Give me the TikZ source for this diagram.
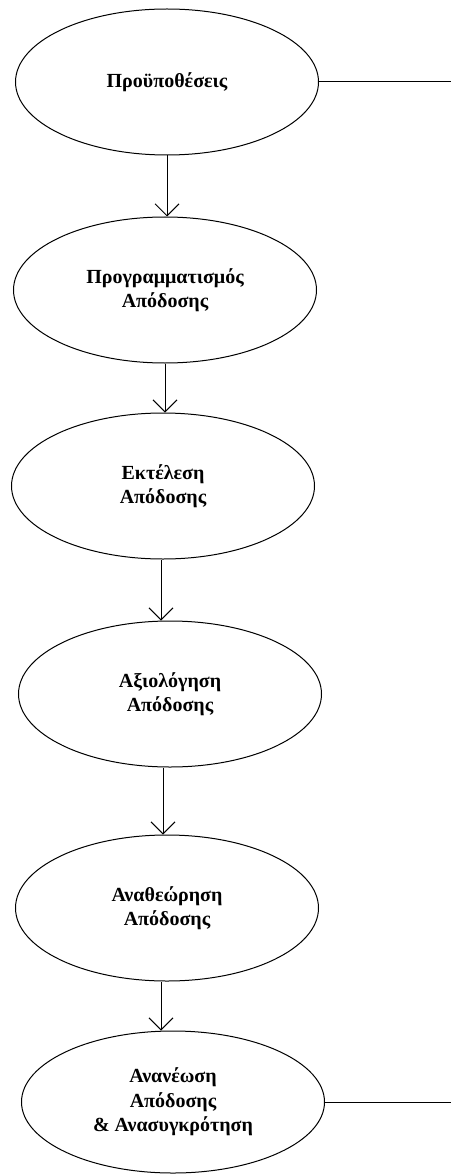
\documentclass[tikz,border=0pt]{standalone}
\usepackage{fontspec}
\setmainfont{Liberation Serif}
\usetikzlibrary{shapes.geometric,arrows.meta}
\begin{document}
\begin{tikzpicture}[x=1pt,y=-1pt,
  stage/.style={ellipse, draw, line width=1pt, inner sep=0pt,
    minimum width=303pt, minimum height=146pt, align=center,
    font=\bfseries\fontsize{20}{24.5}\selectfont},
  flow/.style={draw, line width=1pt,
    -{Straight Barb[length=12pt,width=24pt,line width=1pt]}},
  side/.style={draw, line width=1pt}]
\useasboundingbox (0,0) rectangle (451,1174);
% process stages, top to bottom
\node[stage] (e1) at (167,82)   {Προϋποθέσεις};
\node[stage] (e2) at (165,290)  {Προγραμματισμός\\Απόδοσης};
\node[stage] (e3) at (163,486)  {Εκτέλεση\\Απόδοσης};
\node[stage] (e4) at (170,694)  {Αξιολόγηση\\Απόδοσης};
\node[stage] (e5) at (167,908)  {Αναθεώρηση\\Απόδοσης};
\node[stage, minimum height=142pt] (e6) at (173,1102) {Ανανέωση\\Απόδοσης\\\& Ανασυγκρότηση};
% links between consecutive stages
\draw[flow] (e1.south) -- (e1.south |- e2.north);
\draw[flow] (e2.south) -- (e2.south |- e3.north);
\draw[flow] ([xshift=-2pt]e3.south) -- ([xshift=-2pt]e3.south |- e4.north);
\draw[flow] ([xshift=-7pt]e4.south) -- ([xshift=-7pt]e4.south |- e5.north);
\draw[flow] ([xshift=-6pt]e5.south) -- ([xshift=-6pt]e5.south |- e6.north);
% open lines leaving to the right
\coordinate (r1) at (451,82);
\coordinate (r6) at (451,1102);
\draw[side] (e1.east) -- (r1);
\draw[side] (e6.east) -- (r6);
\end{tikzpicture}
\end{document}
